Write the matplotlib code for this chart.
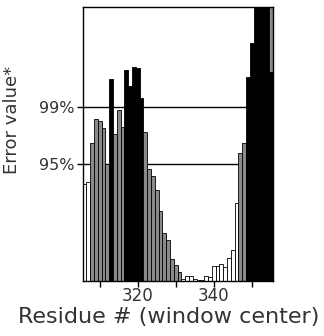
import matplotlib
matplotlib.use("Agg")
import matplotlib.pyplot as plt

# sliding-window error values, one per window center (residues 306-355)
residues = list(range(306, 356))
errors = [0.97, 0.99, 1.38, 1.62, 1.60, 1.53, 1.17, 2.02, 1.47, 1.71,
          1.54, 2.11, 1.95, 2.14, 2.13, 1.83, 1.49, 1.12, 1.05, 0.91,
          0.70, 0.48, 0.41, 0.22, 0.16, 0.09, 0.02, 0.05, 0.05, 0.02,
          0.01, 0.01, 0.045, 0.04, 0.145, 0.15, 0.17, 0.14, 0.225, 0.305,
          0.78, 1.28, 1.38, 2.04, 2.38, 3.0, 3.0, 3.0, 3.0, 3.0]
# shading class for each bar: 0 open, 1 grey, 2 solid
shade = [0, 0, 1, 1, 1, 1, 1, 2, 1, 1,
         1, 2, 2, 2, 2, 2, 1, 1, 1, 1,
         1, 1, 1, 1, 1, 1, 0, 0, 0, 0,
         0, 0, 0, 0, 0, 0, 0, 0, 0, 0,
         0, 1, 1, 2, 2, 2, 2, 2, 2, 1]
# last window: solid core under the grey bar
core_res = [355]
core_val = [2.09]

thr_labels = ["95%", "99%"]
thr_values = [1.165, 1.74]

xtick_pos = [310, 320, 330, 340, 350]
xtick_lab = ["", "320", "", "340", ""]

palette = {0: "white", 1: "#8a8a8a", 2: "black"}

plt.rcParams["font.family"] = ["DejaVu Sans"]

fig = plt.figure(figsize=(3.24, 3.36), dpi=100)
ax = fig.add_axes([0.2552, 0.1637, 0.5864, 0.8155])

for t in thr_values:
  ax.axhline(t, color="black", lw=1.0, zorder=1)

ax.bar(residues, errors, width=1.0, color=[palette[s] for s in shade],
       edgecolor="black", linewidth=0.6, zorder=2)
ax.bar(core_res, core_val, width=1.0, color="black", edgecolor="black",
       linewidth=0.6, zorder=3)

ax.set_xlim(305.5, 355.5)
ax.set_ylim(0, 2.74)

ax.set_xticks(xtick_pos)
ax.set_xticklabels(xtick_lab, fontsize=12, color="#333333")
ax.set_yticks(thr_values)
ax.set_yticklabels(thr_labels, fontsize=11.5, color="#333333")
ax.tick_params(direction="out", length=4, width=1, pad=2)
ax.tick_params(axis="x", pad=0.5)

for s in ax.spines.values():
  s.set_linewidth(1.0)

ax.set_xlabel("Residue # (window center)", fontsize=16, color="#333333")
ax.set_ylabel("Error value*", fontsize=13, color="#333333")
ax.xaxis.set_label_coords(0.455, -0.094)
ax.yaxis.set_label_coords(-0.325, 0.588)

fig.savefig("out.png", dpi=100)
